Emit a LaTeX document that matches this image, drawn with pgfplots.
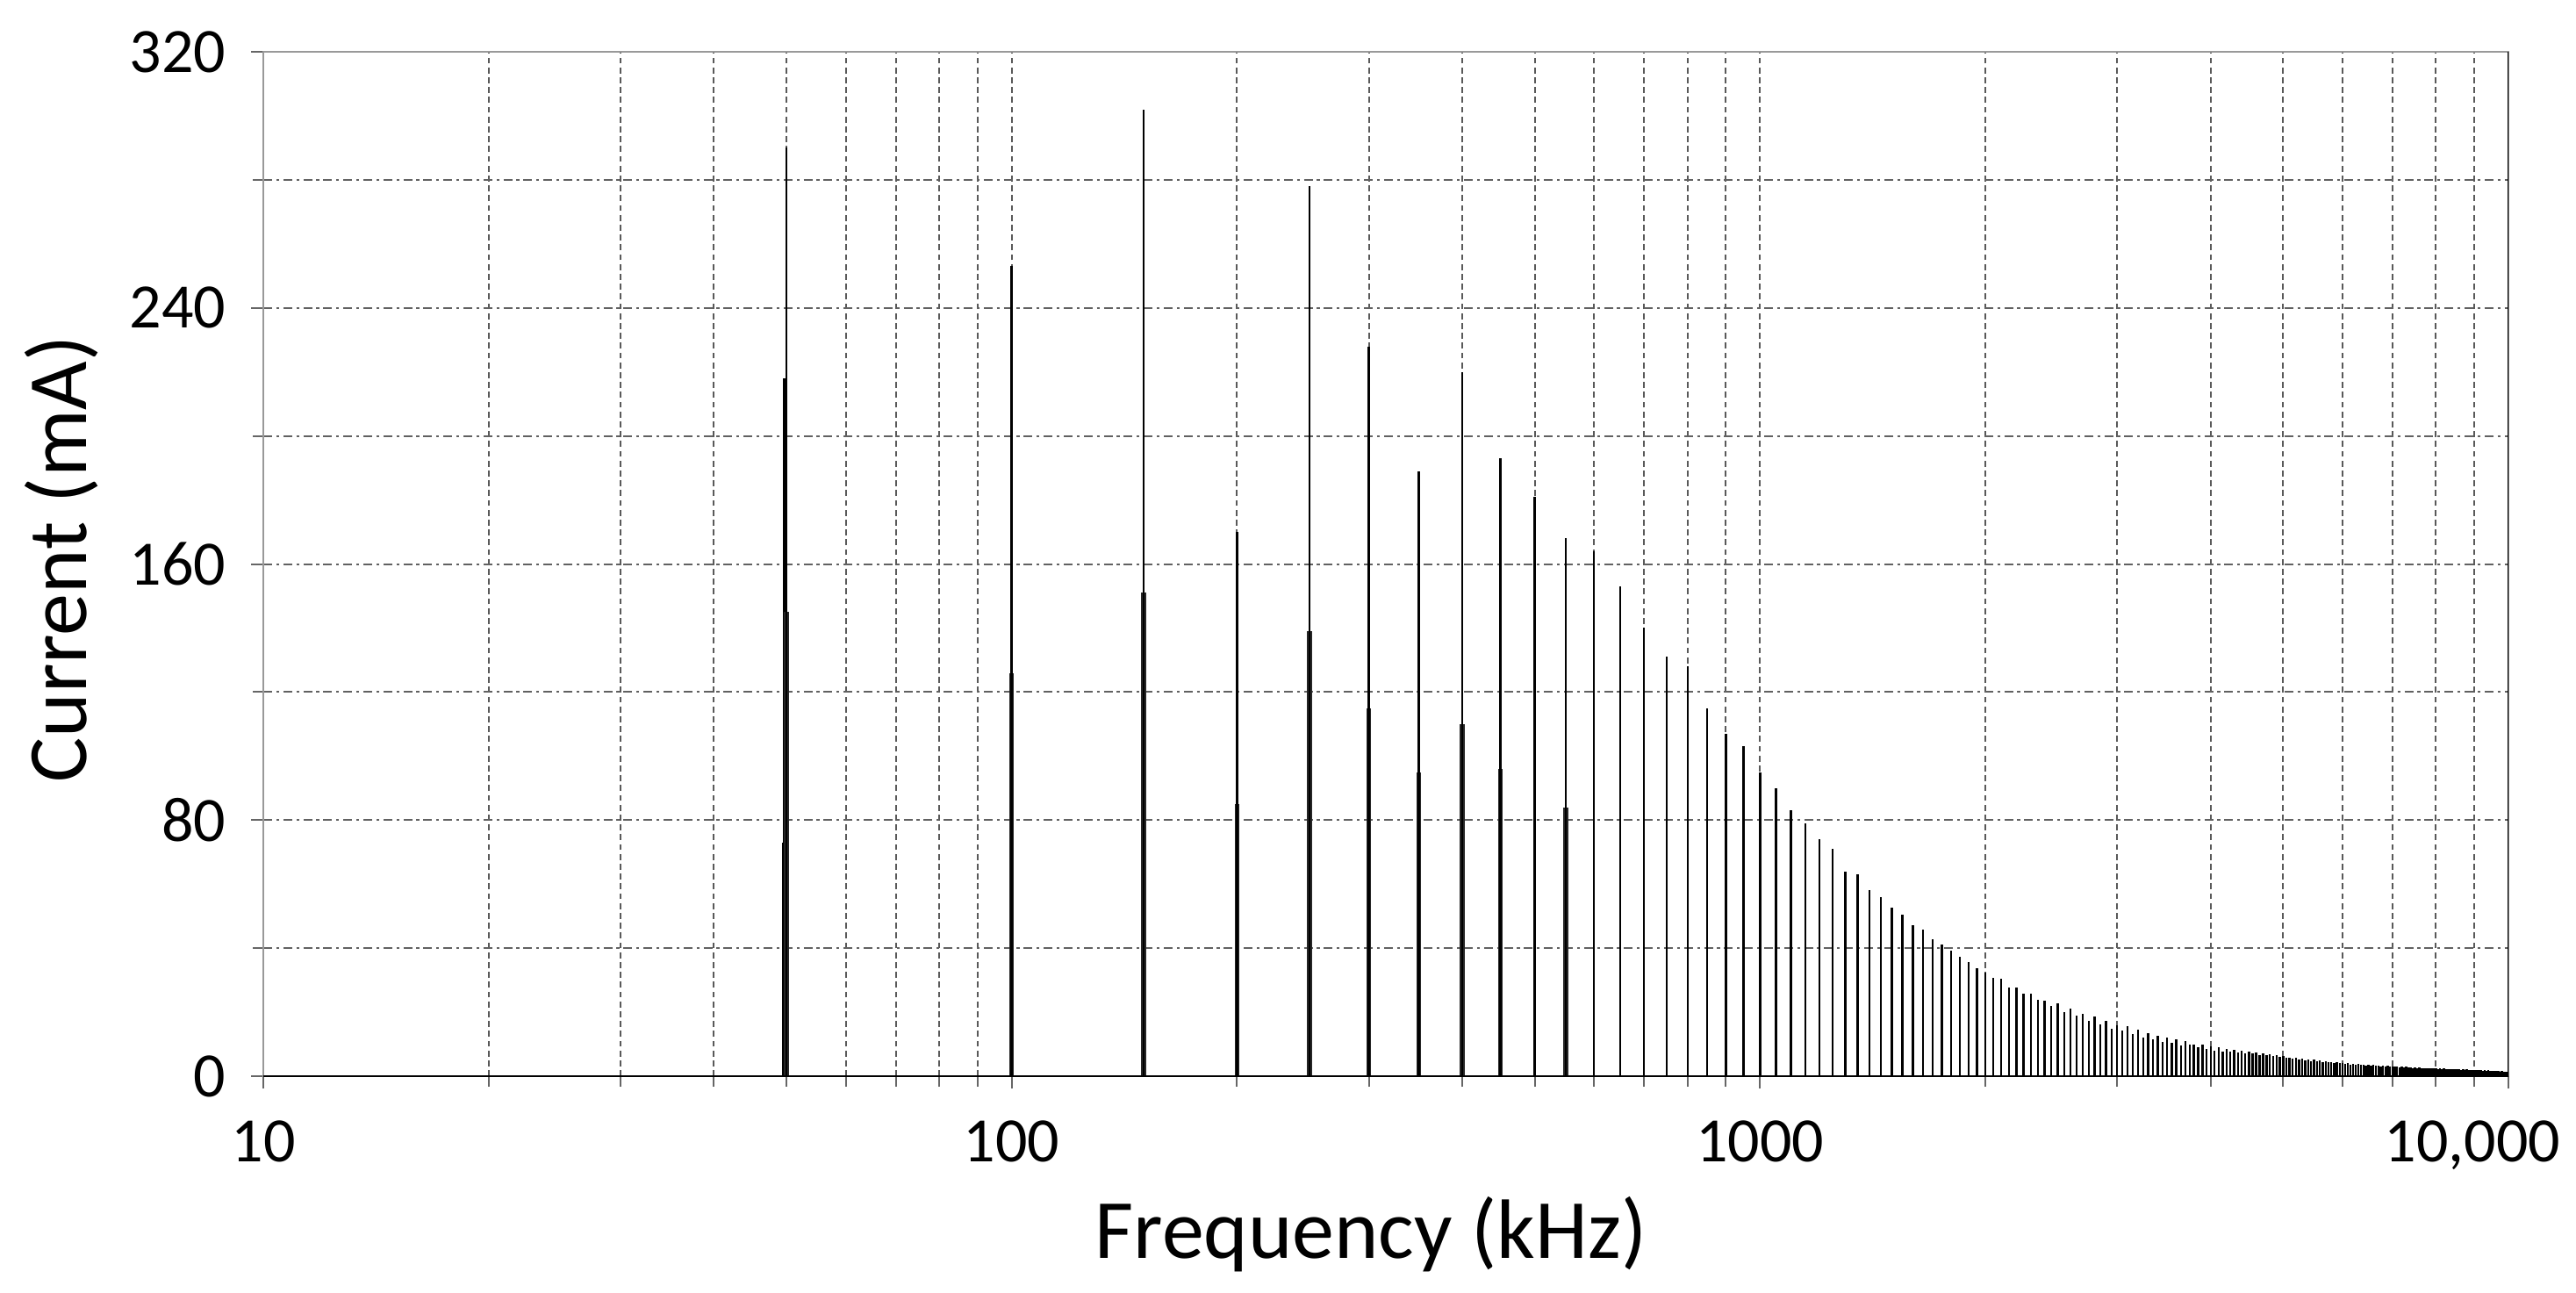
\documentclass[border=0pt]{standalone}
\usepackage{pgfplots}
\pgfplotsset{compat=1.18}
\usepackage{fontspec}
\setmainfont{Carlito}
\begin{document}
\begin{tikzpicture}
\useasboundingbox (0,0) rectangle (733.75pt,368pt);
\begin{axis}[
  at={(75pt,61.5pt)}, anchor=south west,
  scale only axis, width=639.5pt, height=291.75pt,
  xmode=log, log basis x=10,
  xmin=10, xmax=10000, ymin=0, ymax=320,
  xtick={10,100,1000}, xticklabels={10,100,1000},
  minor xtick={20,30,40,50,60,70,80,90,200,300,400,500,600,700,800,900,2000,3000,4000,5000,6000,7000,8000,9000},
  extra x ticks={10000}, extra x tick labels={10{,}000},
  extra x tick style={grid=none, xticklabel style={xshift=-10.25pt}},
  ytick={0,80,160,240,320},
  minor ytick={40,120,200,280},
  grid=both,
  x grid style={draw=black!65, line width=0.5pt, dash pattern=on 1.7pt off 1.1pt},
  y grid style={draw=black!62, line width=0.5pt, dash pattern=on 2.5pt off 1.2pt on 0.8pt off 1.2pt},
  axis line style={draw=black!40, line width=0.7pt},
  tick align=outside, xtick pos=bottom, ytick pos=left,
  major tick length=3.5pt, minor tick length=3pt,
  tick style={draw=black!60, line width=0.5pt},
  /pgf/number format/assume math mode=true,
  tick label style={font=\fontsize{18}{20}\selectfont, inner sep=0pt},
  xticklabel style={anchor=north, yshift=-9pt},
  yticklabel style={anchor=east, xshift=-7pt},
  every axis x label/.style={at={(axis description cs:0.4934,-0.1774)}, anchor=base, inner sep=0pt, font=\fontsize{24}{26}\selectfont},
  every axis y label/.style={at={(axis description cs:-0.0786,0.5047)}, rotate=90, anchor=base, inner sep=0pt, font=\fontsize{24}{26}\selectfont},
  xlabel={Frequency (kHz)},
  ylabel={Current (mA)},
  clip=true,
]
% clustered lower portion at the first harmonic
\addplot[ycomb, mark=none, black, line width=0.4pt] coordinates {(49.4,73)};
\addplot[ycomb, mark=none, black, line width=0.9pt] coordinates {(49.75,218)};
% secondary (half-height) components
\addplot[ycomb, mark=none, black!85, line width=1.4pt] coordinates {
(50,145) (100,126) (150,151) (200,85) (250,139) (300,115) (350,95) (400,110) (450,96) (550,84)
};
% main harmonic lines
\addplot[ycomb, mark=none, black, line width=0.6pt] coordinates {
(50,290) (100,253) (150,302) (200,170) (250,278) (300,228) (350,189) (400,220) (450,193) (500,181)
(550,168) (600,164) (650,153) (700,140) (750,131) (800,128) (850,115) (900,107) (950,103) (1000,95)
(1050,90) (1100,83) (1150,79) (1200,74) (1250,71) (1300,64) (1350,63) (1400,58) (1450,56) (1500,52.6)
(1550,50.5) (1600,47.2) (1650,45.7) (1700,42.8) (1750,41) (1800,39.1) (1850,37.3) (1900,35.6) (1950,33.8) (2000,32.3)
(2050,30.7) (2100,30.4) (2150,27.7) (2200,27.7) (2250,25.9) (2300,25.9) (2350,23.8) (2400,23.6) (2450,22) (2500,22.7)
(2550,20.1) (2600,21) (2650,18.8) (2700,19.5) (2750,17.4) (2800,18.6) (2850,16.1) (2900,17.2) (2950,14.9) (3000,15.8)
(3050,14.3) (3100,15.5) (3150,13.1) (3200,14.6) (3250,12.2) (3300,13.5) (3350,11.5) (3400,12.6) (3450,10.8) (3500,12.2)
(3550,10.3) (3600,11.5) (3650,9.6) (3700,11) (3750,9.9) (3800,10) (3850,9) (3900,9.9) (3950,8.5) (4000,9.4)
(4050,8) (4100,9) (4150,7.6) (4200,8.5) (4250,7.6) (4300,8.3) (4350,7.4) (4400,8) (4450,7.2) (4500,7.7)
(4550,7) (4600,7.4) (4650,6.7) (4700,7.1) (4750,6.5) (4800,6.8) (4850,6.2) (4900,6.5) (4950,6) (5000,6.2)
(5050,5.7) (5100,5.9) (5150,5.4) (5200,5.7) (5250,5.2) (5300,5.5) (5350,5) (5400,5.3) (5450,4.8) (5500,5.1)
(5550,4.6) (5600,4.9) (5650,4.4) (5700,4.7) (5750,4.3) (5800,4.5) (5850,4.1) (5900,4.3) (5950,4) (6000,4.1)
(6050,3.8) (6100,4) (6150,3.7) (6200,3.9) (6250,3.6) (6300,3.8) (6350,3.5) (6400,3.7) (6450,3.4) (6500,3.6)
(6550,3.3) (6600,3.5) (6650,3.2) (6700,3.4) (6750,3.1) (6800,3.3) (6850,3) (6900,3.2) (6950,3) (7000,3.1)
(7050,2.9) (7100,3) (7150,2.8) (7200,2.9) (7250,2.8) (7300,2.9) (7350,2.7) (7400,2.8) (7450,2.6) (7500,2.8)
(7550,2.6) (7600,2.7) (7650,2.5) (7700,2.6) (7750,2.5) (7800,2.6) (7850,2.4) (7900,2.5) (7950,2.4) (8000,2.5)
(8050,2.3) (8100,2.4) (8150,2.3) (8200,2.4) (8250,2.2) (8300,2.3) (8350,2.2) (8400,2.3) (8450,2.1) (8500,2.2)
(8550,2.1) (8600,2.2) (8650,2) (8700,2.1) (8750,2) (8800,2.1) (8850,1.9) (8900,2) (8950,1.9) (9000,2)
(9050,1.8) (9100,1.9) (9150,1.8) (9200,1.9) (9250,1.7) (9300,1.8) (9350,1.7) (9400,1.8) (9450,1.7) (9500,1.7)
(9550,1.6) (9600,1.7) (9650,1.6) (9700,1.6) (9750,1.5) (9800,1.6) (9850,1.5) (9900,1.5) (9950,1.5) (10000,1.5)
};
\draw[black, line width=0.7pt] (rel axis cs:0,0) -- (rel axis cs:1,0) -- (rel axis cs:1,1);
\end{axis}
\end{tikzpicture}
\end{document}
